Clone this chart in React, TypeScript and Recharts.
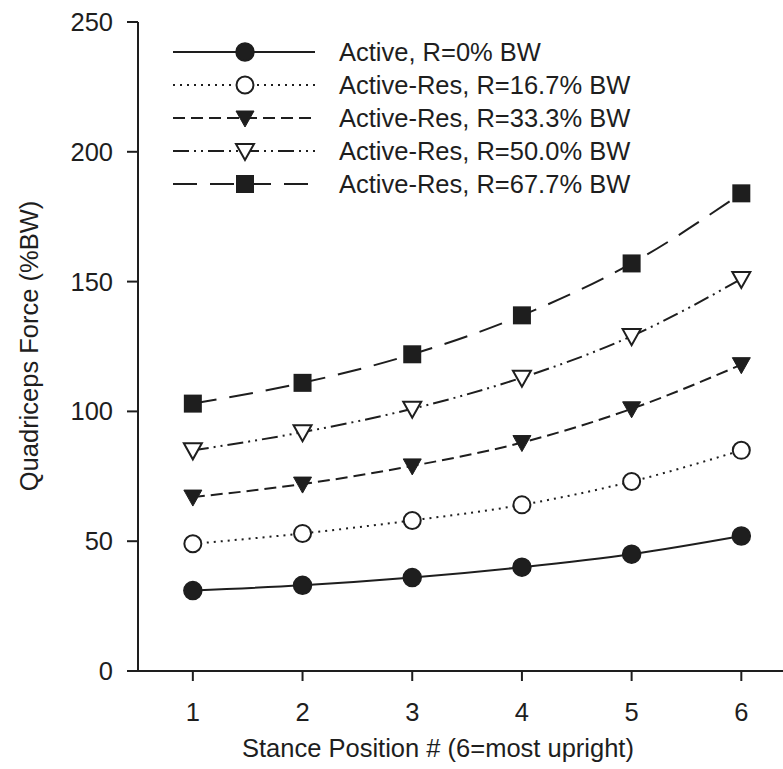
import { Customized, Line, LineChart, XAxis, YAxis } from "recharts";

const positions = [1, 2, 3, 4, 5, 6];
const active0 = [31, 33, 36, 40, 45, 52];
const res167 = [49, 53, 58, 64, 73, 85];
const res333 = [67, 72, 79, 88, 101, 118];
const res500 = [85, 92, 101, 113, 129, 151];
const res677 = [103, 111, 122, 137, 157, 184];
const yTicks = [0, 50, 100, 150, 200, 250];

const FONT = "'Liberation Sans', Arial, Helvetica, sans-serif";
const INK = "#1e1e1e";
const FS = 25.5;

type Shape = "circle" | "openCircle" | "triangle" | "openTriangle" | "square";

const series: Array<{ key: string; name: string; values: number[]; dash?: string; shape: Shape }> = [
  { key: "a0", name: "Active, R=0% BW", values: active0, shape: "circle" },
  { key: "r167", name: "Active-Res, R=16.7% BW", values: res167, dash: "2 5", shape: "openCircle" },
  { key: "r333", name: "Active-Res, R=33.3% BW", values: res333, dash: "12 6", shape: "triangle" },
  { key: "r500", name: "Active-Res, R=50.0% BW", values: res500, dash: "16 5 2 5 2 5", shape: "openTriangle" },
  { key: "r677", name: "Active-Res, R=67.7% BW", values: res677, dash: "24 13", shape: "square" },
];

const rows = positions.map((p, i) => {
  const row: Record<string, number> = { pos: p };
  series.forEach((s) => (row[s.key] = s.values[i]));
  return row;
});

function Marker({ cx, cy, shape }: { cx: number; cy: number; shape: Shape }) {
  if (shape === "circle") return <circle cx={cx} cy={cy} r={9} fill={INK} stroke={INK} strokeWidth={1.5} />;
  if (shape === "openCircle") return <circle cx={cx} cy={cy} r={8.5} fill="#fff" stroke={INK} strokeWidth={2} />;
  if (shape === "square") return <rect x={cx - 9} y={cy - 9} width={18} height={18} fill={INK} />;
  const pts = `${cx - 9},${cy - 7} ${cx + 9},${cy - 7} ${cx},${cy + 9}`;
  if (shape === "triangle") return <polygon points={pts} fill={INK} stroke={INK} strokeWidth={1} />;
  return <polygon points={pts} fill="#fff" stroke={INK} strokeWidth={2} />;
}

function Decor() {
  return (
    <g fontFamily={FONT} fill={INK} fontSize={FS}>
      {series.map((s, i) => {
        const y = 52 + i * 33;
        return (
          <g key={s.key}>
            <line x1={173} x2={315} y1={y} y2={y} stroke={INK} strokeWidth={2} strokeDasharray={s.dash} />
            <Marker cx={245} cy={y} shape={s.shape} />
            <text x={339} y={y + 9}>{s.name}</text>
          </g>
        );
      })}
      <text x={438} y={757} textAnchor="middle">
        Stance Position # (6=most upright)
      </text>
      <text x={38} y={346} textAnchor="middle" transform="rotate(-90 38 346)">
        Quadriceps Force (%BW)
      </text>
    </g>
  );
}

export default function App() {
  return (
    <div style={{ position: "absolute", left: 0, top: 0, background: "#fff" }}>
      <LineChart width={783} height={769} data={rows} margin={{ top: 22, right: 0, bottom: 0, left: 0 }}>
        <XAxis
          dataKey="pos"
          type="number"
          domain={[0.5, 6.38]}
          ticks={positions}
          allowDataOverflow
          height={98}
          stroke={INK}
          strokeWidth={2}
          tickSize={10}
          tickMargin={22}
          tick={{ fill: INK, fontSize: FS, fontFamily: FONT }}
        />
        <YAxis
          type="number"
          domain={[0, 250]}
          ticks={yTicks}
          width={138}
          stroke={INK}
          strokeWidth={2}
          tickSize={11}
          tickMargin={14}
          tick={{ fill: INK, fontSize: FS, fontFamily: FONT }}
        />
        {series.map((s) => (
          <Line
            key={s.key}
            dataKey={s.key}
            name={s.name}
            type="monotone"
            stroke={INK}
            strokeWidth={2}
            strokeDasharray={s.dash}
            isAnimationActive={false}
            dot={(p: any) => <Marker key={`${s.key}-${p.index}`} cx={p.cx} cy={p.cy} shape={s.shape} />}
            activeDot={false}
          />
        ))}
        <Customized component={Decor} />
      </LineChart>
    </div>
  );
}
